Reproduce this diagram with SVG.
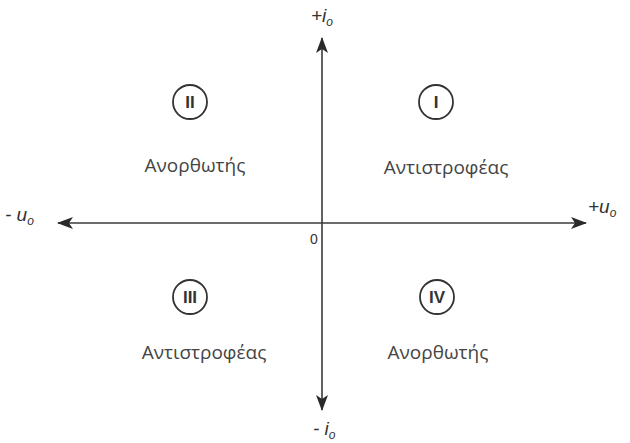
<svg xmlns="http://www.w3.org/2000/svg" width="630" height="443" viewBox="0 0 630 443">
<style>
.ax{stroke:#3a3a3a;stroke-width:1.6;fill:none}
.ring{stroke:#333;stroke-width:1.8;fill:none}
.t{font-family:"Open Sans","DejaVu Sans",sans-serif;font-size:19px;fill:#444;text-anchor:middle}
.r{font-family:"Liberation Sans",Arial,sans-serif;font-size:17px;font-weight:bold;fill:#333;text-anchor:middle}
.lab{font-family:"Liberation Sans",Arial,sans-serif;font-size:19px;font-style:italic;fill:#333}
.sub{font-size:12px}
</style>
<defs>
<marker id="ah" viewBox="0 0 16 12" refX="15" refY="6" markerWidth="16" markerHeight="12" markerUnits="userSpaceOnUse" orient="auto">
<path d="M0,0 L16,6 L0,12 L4,6 Z" fill="#2a2a2a"/>
</marker>
</defs>
<rect width="630" height="443" fill="#fff"/>
<g id="connectors">
<line class="ax" x1="322" y1="223" x2="322" y2="38" marker-end="url(#ah)"/>
<line class="ax" x1="322" y1="223" x2="322" y2="410" marker-end="url(#ah)"/>
<line class="ax" x1="322" y1="223" x2="58" y2="223" marker-end="url(#ah)"/>
<line class="ax" x1="322" y1="223" x2="586" y2="223" marker-end="url(#ah)"/>
</g>
<g id="q1">
<circle class="ring" cx="436" cy="102" r="17"/>
<text class="r" x="436" y="108">I</text>
<text class="t" x="446" y="174">Αντιστροφέας</text>
</g>
<g id="q2">
<circle class="ring" cx="190" cy="102" r="17"/>
<text class="r" x="190" y="108">II</text>
<text class="t" x="195" y="172">Ανορθωτής</text>
</g>
<g id="q3">
<circle class="ring" cx="190" cy="297" r="17"/>
<text class="r" x="190" y="303">III</text>
<text class="t" x="204" y="359">Αντιστροφέας</text>
</g>
<g id="q4">
<circle class="ring" cx="437" cy="297" r="17"/>
<text class="r" x="437" y="303">IV</text>
<text class="t" x="438" y="359">Ανορθωτής</text>
</g>
<g id="labels">
<text class="lab" x="311" y="22">+<tspan>i</tspan><tspan class="sub" dy="4">o</tspan></text>
<text class="lab" x="313" y="435">- <tspan>i</tspan><tspan class="sub" dy="4">o</tspan></text>
<text class="lab" x="5" y="221">- u<tspan class="sub" dy="4">o</tspan></text>
<text class="lab" x="588" y="213">+u<tspan class="sub" dy="4">o</tspan></text>
<text font-family="Liberation Sans,Arial,sans-serif" font-size="14" fill="#333" x="310" y="244">0</text>
</g>
</svg>
